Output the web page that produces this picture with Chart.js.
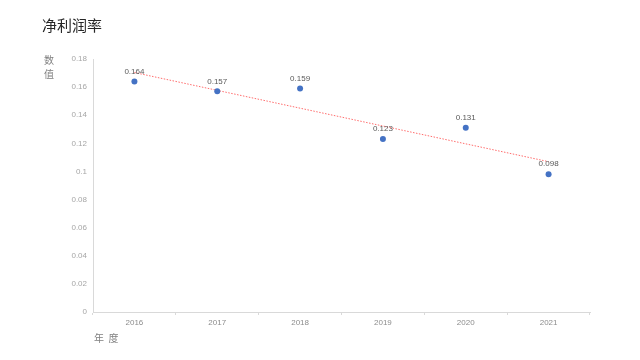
<!DOCTYPE html>
<html>
<head>
<meta charset="utf-8">
<script src="https://cdn.jsdelivr.net/npm/chart.js@4/dist/chart.umd.min.js"></script>
<style>
  html, body { margin: 0; padding: 0; background: #fff; }
  #wrap { width: 640px; height: 360px; position: relative; }
</style>
</head>
<body>
<div id="wrap"><canvas id="chart" width="640" height="360"></canvas></div>
<script>
// Data
const years = ['2016', '2017', '2018', '2019', '2020', '2021'];
const netMargin = [0.164, 0.157, 0.159, 0.123, 0.131, 0.098];

const chartTitle = '净利润率';
const yAxisTitle = ['数', '值'];
const xAxisTitle = '年  度';

const font = '"Microsoft YaHei", "Noto Sans CJK SC", "Liberation Sans", sans-serif';

// Linear trendline (least squares over category index), like Excel's
function linearTrend(values) {
    const n = values.length;
    let sx = 0, sy = 0, sxy = 0, sxx = 0;
    values.forEach((y, i) => {
        const x = i + 1;
        sx += x; sy += y; sxy += x * y; sxx += x * x;
    });
    const slope = (n * sxy - sx * sy) / (n * sxx - sx * sx);
    const icept = (sy - slope * sx) / n;
    return values.map((_, i) => icept + slope * (i + 1));
}

// Title, axis titles and point labels
const extrasPlugin = {
    id: 'extras',
    afterDraw(chart) {
        const ctx = chart.ctx;
        const area = chart.chartArea;
        ctx.save();

        ctx.fillStyle = '#262626';
        ctx.font = '15px ' + font;
        ctx.textAlign = 'left';
        ctx.textBaseline = 'middle';
        ctx.fillText(chartTitle, 42, 25);

        ctx.fillStyle = '#7f7f7f';
        ctx.font = '10px ' + font;
        ctx.textAlign = 'center';
        yAxisTitle.forEach((ch, i) => ctx.fillText(ch, 49, 60 + i * 14));
        ctx.textAlign = 'left';
        ctx.fillText(xAxisTitle, 94, 338);

        const meta = chart.getDatasetMeta(0);
        ctx.fillStyle = '#595959';
        ctx.font = '8px "Liberation Sans", Arial, sans-serif';
        ctx.textAlign = 'center';
        ctx.textBaseline = 'bottom';
        meta.data.forEach((pt, i) => {
            ctx.fillText(String(netMargin[i]), pt.x, pt.y - 6);
        });
        ctx.restore();
    }
};

new Chart(document.getElementById('chart'), {
    type: 'line',
    data: {
        labels: years,
        datasets: [
            {
                label: chartTitle,
                data: netMargin,
                showLine: false,
                pointRadius: 3,
                pointHoverRadius: 3,
                pointBackgroundColor: '#4472c4',
                pointBorderColor: '#4472c4',
                pointBorderWidth: 0,
                order: 1
            },
            {
                label: 'trend',
                data: linearTrend(netMargin),
                borderColor: 'rgba(255, 60, 60, 0.75)',
                borderWidth: 1,
                borderDash: [1.5, 1.5],
                pointRadius: 0,
                fill: false,
                tension: 0,
                order: 2
            }
        ]
    },
    options: {
        responsive: false,
        animation: false,
        layout: {
            padding: { left: 0, top: 59, right: 50, bottom: 0 }
        },
        plugins: {
            legend: { display: false },
            title: { display: false },
            tooltip: { enabled: false }
        },
        scales: {
            x: {
                offset: true,
                afterFit: (scale) => { scale.height = 48; },
                grid: {
                    offset: true,
                    drawOnChartArea: false,
                    drawTicks: true,
                    tickLength: 3,
                    color: '#d9d9d9'
                },
                border: { display: true, color: '#d9d9d9' },
                ticks: {
                    color: '#8c8c8c',
                    font: { size: 8, family: '"Liberation Sans", Arial, sans-serif' },
                    padding: 3,
                    maxRotation: 0
                }
            },
            y: {
                min: 0,
                max: 0.18,
                afterFit: (scale) => { scale.width = 93; },
                grid: {
                    drawOnChartArea: false,
                    drawTicks: false,
                    color: '#d9d9d9'
                },
                border: { display: true, color: '#d9d9d9' },
                ticks: {
                    stepSize: 0.02,
                    color: '#a6a6a6',
                    font: { size: 8, family: '"Liberation Sans", Arial, sans-serif' },
                    padding: 6,
                    callback: (v) => String(+v.toFixed(2))
                }
            }
        }
    },
    plugins: [extrasPlugin]
});
</script>
</body>
</html>
